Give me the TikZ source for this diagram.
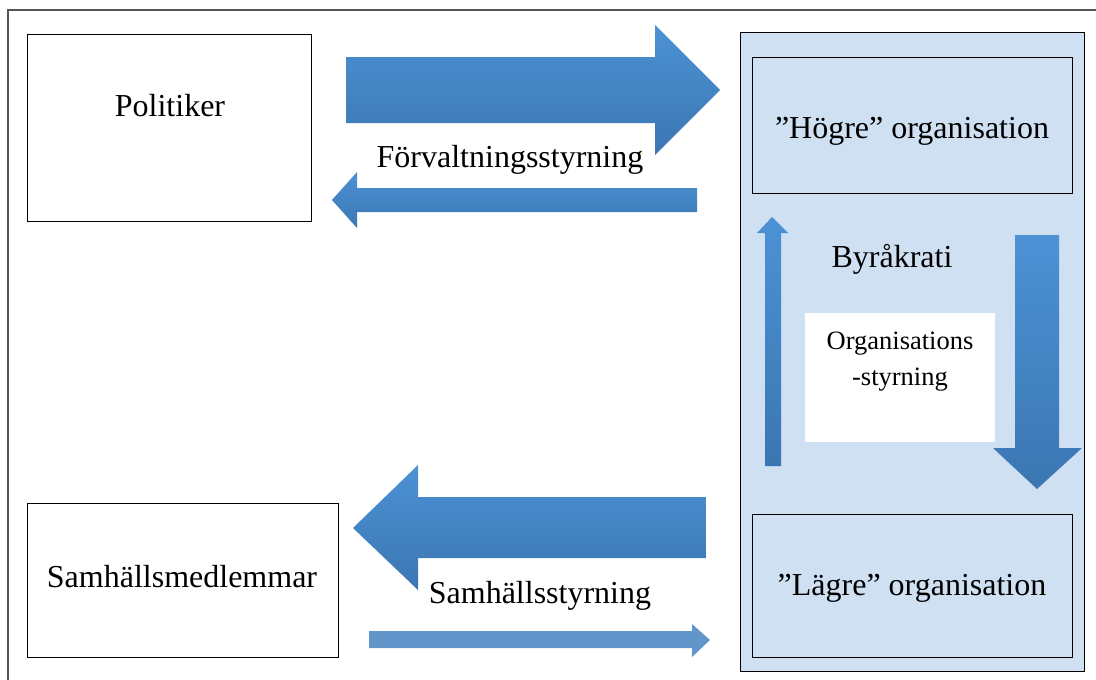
\documentclass[tikz,border=0pt]{standalone}
\usepackage{fontspec}
\setmainfont{Liberation Serif}
\definecolor{arrtop}{RGB}{76,146,213}
\definecolor{arrbot}{RGB}{59,118,178}
\definecolor{flatarr}{RGB}{98,150,202}
\definecolor{panel}{RGB}{207,224,242}
\definecolor{frame}{RGB}{85,85,85}
\begin{document}
\begin{tikzpicture}[x=1pt,y=-1pt,
  box/.style={draw=black, line width=1.1pt, anchor=north west, inner sep=0},
  lbl/.style={font=\fontsize{32}{37}\selectfont, inner sep=0, anchor=base},
  small/.style={font=\fontsize{26.5}{30}\selectfont, inner sep=0, anchor=base},
  shadearr/.style={top color=arrtop, bottom color=arrbot, draw=none},
  flat/.style={fill=flatarr, draw=none}]
\useasboundingbox (0,0) rectangle (1096,680);
% outer frame (cropped at right and bottom)
\draw[frame, line width=1.3pt] (8,690) -- (8,10) -- (1106,10);
% panel
\node[box, fill=panel, minimum width=344, minimum height=639] (panel) at (740,32) {};
% boxes
\node[box, minimum width=284, minimum height=187] (pol) at (27,34) {};
\node[box, minimum width=311, minimum height=154] (sam) at (27,503) {};
\node[box, fill=panel, minimum width=320, minimum height=136] (hog) at (752,57) {};
\node[box, fill=panel, minimum width=320, minimum height=143] (lag) at (752,514) {};
\node[fill=white, draw=none, anchor=north west, minimum width=190, minimum height=129, inner sep=0] (wb) at (805,313) {};
% arrows
\path[shadearr] (346,57) -- (655,57) -- (655,25) -- (720,90) -- (655,155) -- (655,123) -- (346,123) -- cycle;
\path[shadearr] (697,188) -- (357,188) -- (357,172) -- (332,200) -- (357,228) -- (357,212) -- (697,212) -- cycle;
\path[shadearr] (706,497) -- (418,497) -- (418,465) -- (353,528) -- (418,590) -- (418,558) -- (706,558) -- cycle;
\path[flat] (369,631) -- (692,631) -- (692,624) -- (710,640) -- (692,657) -- (692,648) -- (369,648) -- cycle;
\path[shadearr] (765,466) -- (765,233) -- (757,233) -- (772,217) -- (788,233) -- (781,233) -- (781,466) -- cycle;
\path[shadearr] (1015,235) -- (1059,235) -- (1059,448) -- (1082,448) -- (1037,489) -- (993,448) -- (1015,448) -- cycle;
% labels
\node[lbl] (tpol) at (170,116) {Politiker};
\node[lbl] (tsam) at (182,587) {Samhällsmedlemmar};
\node[lbl] (thog) at (912,138) {”Högre” organisation};
\node[lbl] (tlag) at (912,595) {”Lägre” organisation};
\node[lbl] (tforv) at (510,167) {Förvaltningsstyrning};
\node[lbl] (tsamst) at (540,603) {Samhällsstyrning};
\node[lbl] (tbyr) at (892,267) {Byråkrati};
\node[small] (torg) at (900,349) {Organisations};
\node[small] (tstyr) at (900,385) {-styrning};
\end{tikzpicture}
\end{document}
